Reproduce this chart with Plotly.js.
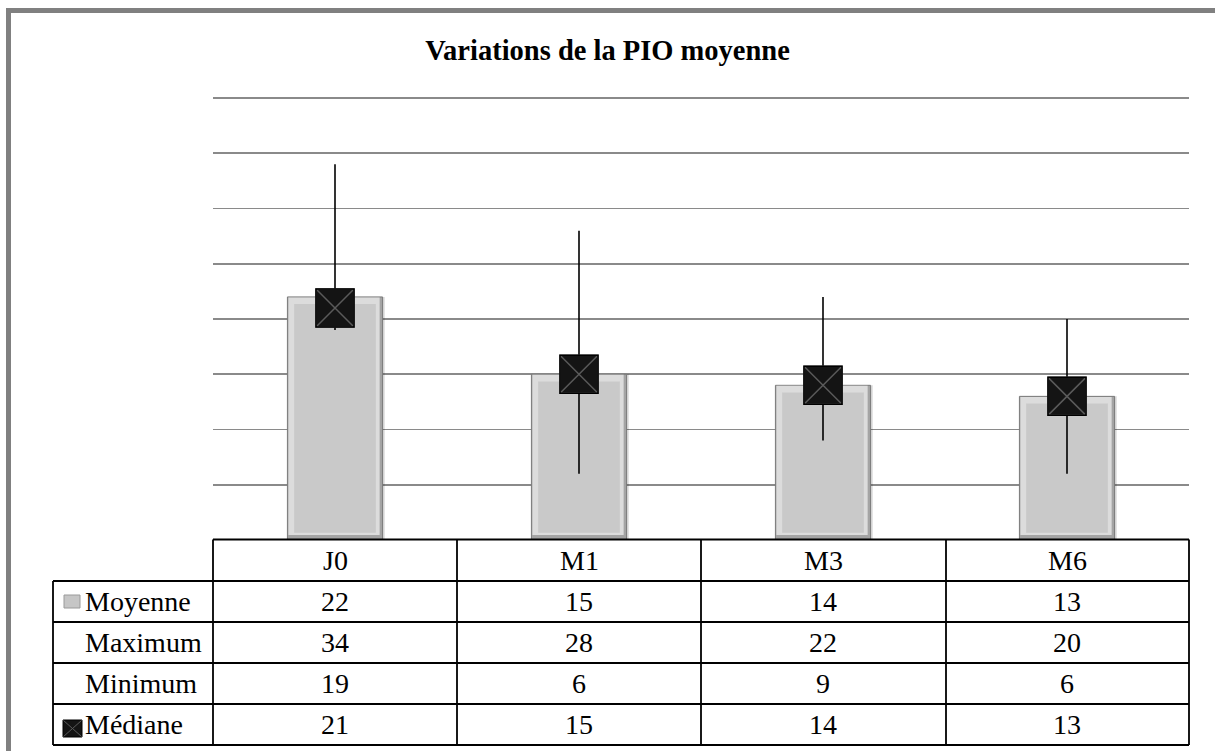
<!DOCTYPE html>
<html>
<head>
<meta charset="utf-8">
<script src="https://cdn.plot.ly/plotly-3.0.1.min.js"></script>
<style>html,body{margin:0;padding:0;background:#fff;}#chart{width:1215px;height:751px;}</style>
</head>
<body>
<div id="chart"></div>
<script>
const chartTitle = 'Variations de la PIO moyenne';
const categories = ['J0', 'M1', 'M3', 'M6'];
const moyenne = [22, 15, 14, 13];
const maximum = [34, 28, 22, 20];
const minimum = [19, 6, 9, 6];
const mediane = [21, 15, 14, 13];
const rowLabels = ['Moyenne', 'Maximum', 'Minimum', 'Médiane'];
const gridValues = [5, 10, 15, 20, 25, 30, 35, 40];

const W = 1215, H = 751;
const mL = 213, mR = 26, mT = 87, mB = 211;
const plotW = W - mL - mR, plotH = H - mT - mB;
const px2x = p => (p - mL) / plotW;
const px2y = p => (H - mB - p) / plotH;

const FONT = '"Liberation Serif", "Times New Roman", Tinos, serif';

const hlX = [], hlY = [];
categories.forEach((c, i) => { hlX.push(c, c, null); hlY.push(minimum[i], maximum[i], null); });

const traces = [
  // drop shadow
  { type: 'bar', x: categories, y: moyenne, width: 0.39, offset: -0.186,
    marker: { color: 'rgba(0,0,0,0.14)' }, hoverinfo: 'skip', showlegend: false },
  // outer (dark edge: right & bottom)
  { type: 'bar', x: categories, y: moyenne, width: 0.39,
    marker: { color: '#a4a4a4', line: { color: '#7a7a7a', width: 1 } }, name: 'Moyenne', showlegend: false },
  // light bevel (left & top)
  { type: 'bar', x: categories, y: moyenne.map(v => v - 0.5), base: 0.45, width: 0.374, offset: -0.191,
    marker: { color: '#dcdcdc' }, hoverinfo: 'skip', showlegend: false },
  // face
  { type: 'bar', x: categories, y: moyenne.map(v => v - 1.3), base: 0.65, width: 0.335,
    marker: { color: '#c9c9c9' }, hoverinfo: 'skip', showlegend: false },
  { type: 'scatter', mode: 'lines', x: hlX, y: hlY,
    line: { color: '#000', width: 1.6 }, hoverinfo: 'skip', showlegend: false },
  { type: 'scatter', mode: 'markers', x: categories, y: mediane, name: 'Médiane',
    marker: { symbol: 'square-x', size: 38, color: '#141414', line: { color: '#5a5a5a', width: 1.5 } }, showlegend: false },
  { type: 'scatter', mode: 'markers', x: categories, y: mediane, hoverinfo: 'skip',
    marker: { symbol: 'square-open', size: 38, color: '#000', line: { color: '#000', width: 1.5 } }, showlegend: false }
];

const shapes = [];
const annotations = [];
const lineStyle = { color: '#000', width: 1.8 };

const colEdges = [213, 457, 701, 946, 1189];
const rowEdges = [539.5, 581, 622, 663, 704, 745];
const leftEdge = 53;

rowEdges.forEach((py, i) => {
  shapes.push({ type: 'line', xref: 'paper', yref: 'paper',
    x0: px2x(i === 0 ? colEdges[0] : leftEdge), x1: px2x(colEdges[4]), y0: px2y(py), y1: px2y(py), line: lineStyle });
});
colEdges.forEach(px => {
  shapes.push({ type: 'line', xref: 'paper', yref: 'paper', x0: px2x(px), x1: px2x(px),
    y0: px2y(rowEdges[0]), y1: px2y(rowEdges[5]), line: lineStyle });
});
shapes.push({ type: 'line', xref: 'paper', yref: 'paper', x0: px2x(leftEdge), x1: px2x(leftEdge),
  y0: px2y(rowEdges[1]), y1: px2y(rowEdges[5]), line: lineStyle });

shapes.push({ type: 'line', xref: 'paper', yref: 'paper', x0: px2x(8.5), x1: px2x(1230), y0: px2y(10.5), y1: px2y(10.5), line: { color: '#808080', width: 5 } });
shapes.push({ type: 'line', xref: 'paper', yref: 'paper', x0: px2x(8.5), x1: px2x(8.5), y0: px2y(8), y1: px2y(770), line: { color: '#808080', width: 5 } });

shapes.push({ type: 'rect', xref: 'paper', yref: 'paper', x0: px2x(64), x1: px2x(80), y0: px2y(595), y1: px2y(608),
  fillcolor: '#c6c6c6', line: { color: '#9a9a9a', width: 1 } });
shapes.push({ type: 'rect', xref: 'paper', yref: 'paper', x0: px2x(63), x1: px2x(82), y0: px2y(720), y1: px2y(737),
  fillcolor: '#141414', line: { color: '#000', width: 1 } });
shapes.push({ type: 'line', xref: 'paper', yref: 'paper', x0: px2x(63.5), x1: px2x(81.5), y0: px2y(720.5), y1: px2y(736.5), line: { color: '#5a5a5a', width: 1 } });
shapes.push({ type: 'line', xref: 'paper', yref: 'paper', x0: px2x(63.5), x1: px2x(81.5), y0: px2y(736.5), y1: px2y(720.5), line: { color: '#5a5a5a', width: 1 } });

const tFont = { family: FONT, size: 28, color: '#000' };
categories.forEach(c => {
  annotations.push({ xref: 'x', yref: 'paper', x: c, y: px2y((rowEdges[0] + rowEdges[1]) / 2),
    text: c, showarrow: false, font: tFont, xanchor: 'center', yanchor: 'middle' });
});
const rows = [moyenne, maximum, minimum, mediane];
rows.forEach((arr, r) => {
  const cy = px2y((rowEdges[r + 1] + rowEdges[r + 2]) / 2);
  annotations.push({ xref: 'paper', yref: 'paper', x: px2x(83), y: cy, text: rowLabels[r],
    showarrow: false, font: tFont, xanchor: 'left', yanchor: 'middle' });
  arr.forEach((v, i) => {
    annotations.push({ xref: 'x', yref: 'paper', x: categories[i], y: cy, text: String(v),
      showarrow: false, font: tFont, xanchor: 'center', yanchor: 'middle' });
  });
});

const layout = {
  width: W, height: H,
  margin: { l: mL, r: mR, t: mT, b: mB },
  paper_bgcolor: '#fff', plot_bgcolor: '#fff',
  barmode: 'overlay',
  showlegend: false,
  font: { family: FONT },
  title: { text: '<b>' + chartTitle + '</b>', x: 0.5, xref: 'container', xanchor: 'center',
    y: 1 - 50 / H, yref: 'container', yanchor: 'middle',
    font: { family: FONT, size: 28.5, color: '#000' } },
  xaxis: { type: 'category', categoryorder: 'array', categoryarray: categories, range: [-0.5, 3.5],
    showticklabels: false, showgrid: false, zeroline: false, showline: false, ticks: '' },
  yaxis: { range: [0, 41], tickvals: gridValues, showticklabels: false, showgrid: true,
    gridcolor: '#8a8a8a', gridwidth: 1.6, zeroline: false, showline: false, ticks: '' },
  shapes: shapes,
  annotations: annotations
};

Plotly.newPlot('chart', traces, layout, { staticPlot: true, displayModeBar: false });
</script>
</body>
</html>
